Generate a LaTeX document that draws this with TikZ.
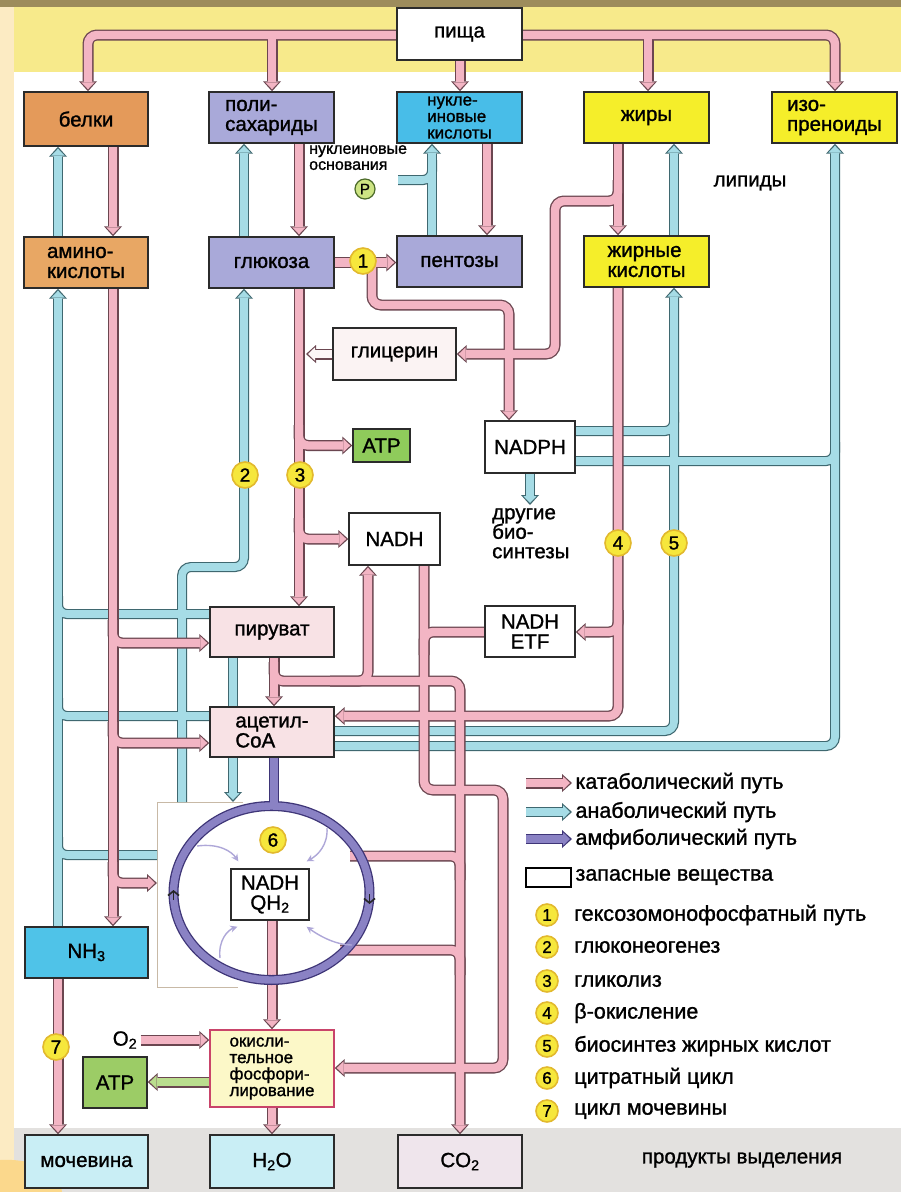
\documentclass[tikz,border=0pt]{standalone}
\usepackage{fontspec}
\setmainfont{Liberation Sans}[FakeBold=1.2]
\usetikzlibrary{arrows.meta,shapes.geometric,positioning,calc}

% pipe colours
\definecolor{katfill}{HTML}{F3B5C4}
\definecolor{katrim}{HTML}{6B4650}
\definecolor{anafill}{HTML}{A6DCE6}
\definecolor{anarim}{HTML}{3F6870}
\definecolor{amffill}{HTML}{8A82C4}
\definecolor{amfrim}{HTML}{3E3577}
\definecolor{feedcol}{HTML}{AEA7D8}
% box colours
\definecolor{boxrim}{HTML}{2B2B2B}
\definecolor{belkicol}{HTML}{E49A5A}
\definecolor{aminocol}{HTML}{E8A764}
\definecolor{sugar}{HTML}{A9A9D9}
\definecolor{nuclcol}{HTML}{48BDE8}
\definecolor{lipid}{HTML}{F5EE2A}
\definecolor{glycol}{HTML}{FBF3F3}
\definecolor{meta}{HTML}{F8E2E5}
\definecolor{atpcol}{HTML}{8FCB5B}
\definecolor{atptwo}{HTML}{9CCC66}
\definecolor{nhcol}{HTML}{4FC3E8}
\definecolor{oxcol}{HTML}{FCF8C8}
\definecolor{oxrim}{HTML}{C9446A}
\definecolor{excol}{HTML}{C9EEF5}
\definecolor{co2col}{HTML}{EFE5EC}
\definecolor{numfill}{HTML}{F6E73C}
\definecolor{numrim}{HTML}{E2B92E}
\definecolor{pfill}{HTML}{CDE483}
\definecolor{prim}{HTML}{4C6B2A}
\definecolor{glyarrow}{HTML}{FDF6F7}
\definecolor{grnarrow}{HTML}{BADD8E}
% page colours
\definecolor{framecol}{HTML}{C8B9A6}
\definecolor{topbar}{HTML}{9D8C5C}
\definecolor{bandcol}{HTML}{F7EA8B}
\definecolor{sidecol}{HTML}{FCEBC3}
\definecolor{excrband}{HTML}{E3E1DF}
\definecolor{decocol}{HTML}{FBD88C}

\pgfdeclarelayer{paper}
\pgfdeclarelayer{anarims}
\pgfdeclarelayer{anafills}
\pgfdeclarelayer{katrims}
\pgfdeclarelayer{katfills}
\pgfdeclarelayer{amfrims}
\pgfdeclarelayer{amffills}
\pgfsetlayers{paper,anarims,anafills,katrims,katfills,amfrims,amffills,main}

% a tube: dark rim on one layer, coloured core on the layer above
\newcommand\tube[3][flat]{%
  \begin{pgfonlayer}{#2rims}\draw[#2 rim,#1 rim] #3;\end{pgfonlayer}%
  \begin{pgfonlayer}{#2fills}\draw[#2 fill,#1 fill] #3;\end{pgfonlayer}}

\newcommand\labfont{\fontsize{20.5}{20}\selectfont}
\newcommand\nucfont{\fontsize{17}{16.5}\selectfont}
\newcommand\oxfont{\fontsize{17}{16.5}\selectfont}
\newcommand\legfont{\fontsize{21.5}{21.5}\selectfont}
\newcommand\smfont{\fontsize{16}{16}\selectfont}

\begin{document}
\begin{tikzpicture}[x=1pt, y=-1pt,
    box/.style={draw=boxrim, line width=1.4pt, minimum width=125pt, minimum height=51pt, inner sep=2pt, align=left, font=\labfont},
    num/.style={circle, draw=numrim, line width=1.6pt, fill=numfill, minimum size=26pt, inner sep=0pt, font=\fontsize{19}{19}\selectfont},
    kat rim/.style={draw=katrim, line width=11pt, rounded corners=9pt},
    kat fill/.style={draw=katfill, line width=8.4pt, rounded corners=9pt},
    ana rim/.style={draw=anarim, line width=10pt, rounded corners=9pt},
    ana fill/.style={draw=anafill, line width=7.6pt, rounded corners=9pt},
    amf rim/.style={draw=amfrim, line width=10pt, rounded corners=9pt},
    amf fill/.style={draw=amffill, line width=7.4pt, rounded corners=9pt},
    flat rim/.style={}, flat fill/.style={},
    arr rim/.style={-{Triangle[length=10pt,width=18pt,line width=0pt]}},
    arr fill/.style={-{Triangle[length=7pt,width=13.4pt,line width=0pt]}, shorten >=2pt},
    solo/.style 2 args={draw=#1, line width=8.4pt, -{Triangle[length=7pt,width=13.4pt,line width=0pt]}, shorten >=2pt,
      preaction={draw=#2, line width=11pt, -{Triangle[length=10pt,width=18pt,line width=0pt]}, shorten >=0pt}},
    feed/.style={draw=feedcol, line width=1.4pt, -{Stealth[length=7pt,width=7pt]}},
    tick/.style={draw=black!85, line width=1.6pt, -{Straight Barb[length=4.5pt,width=11pt]}}]

  \useasboundingbox (0,0) rectangle (901,1192);

  % boxes, top row
  \node[box, fill=white, minimum height=52pt] (food) at (459.5,34) {пища};
  \node[box, fill=belkicol, minimum width=124pt, minimum height=54pt] (belki) at (86,119) {белки};
  \node[box, fill=sugar] (poly) at (271.5,117.5) {поли-\\сахариды};
  \node[box, fill=nuclcol, font=\nucfont, inner sep=0pt] (nucl) at (459.5,117.5) {нукле-\\иновые\\кислоты};
  \node[box, fill=lipid] (fats) at (646.5,117.5) {жиры};
  \node[box, fill=lipid] (iso) at (834.5,117.5) {изо-\\преноиды};
  % monomers
  \node[box, fill=aminocol, minimum width=124pt] (amino) at (86,262.5) {амино-\\кислоты};
  \node[box, fill=sugar] (gluc) at (271.5,262.5) {глюкоза};
  \node[box, fill=sugar] (pent) at (459.5,261.5) {пентозы};
  \node[box, fill=lipid] (facid) at (646.5,261.5) {жирные\\кислоты};
  % intermediates
  \node[box, fill=glycol, minimum width=123pt, minimum height=52pt] (glyc) at (394.5,354) {глицерин};
  \node[box, fill=atpcol, minimum width=57pt, minimum height=33pt] (atp1) at (381.5,445.5) {ATP};
  \node[box, fill=white, minimum width=91pt, minimum height=52pt] (nadh) at (394.5,539) {NADH};
  \node[box, fill=white, minimum width=90pt, minimum height=52pt] (nadph) at (530,447) {NADPH};
  \node[box, fill=white, minimum width=90pt, align=center] (etf) at (530,631.5) {NADH\\ETF};
  \node[box, fill=meta, minimum width=124pt, minimum height=50pt] (pyr) at (272,632) {пируват};
  \node[box, fill=meta, minimum width=124pt, minimum height=50pt] (acoa) at (272,732) {ацетил-\\CoA};
  \node[minimum width=86pt, minimum height=185pt, inner sep=0pt, outer sep=0pt] (cyc) at (200,894.5) {};
  \node[ellipse, minimum width=196pt, minimum height=174pt, inner sep=0pt, outer sep=0pt] (ring) at (271.5,893) {};
  \node[box, fill=white, minimum width=78pt, align=center] (qh) at (270,894.5) {NADH\\QH\textsubscript{2}};
  \node[box, fill=nhcol, minimum width=123pt] (nh3) at (86.5,952.5) {NH\textsubscript{3}};
  \node[box, fill=atptwo, minimum width=64pt] (atp2) at (115,1082.5) {ATP};
  \node[box, fill=oxcol, draw=oxrim, minimum width=124pt, minimum height=77pt, font=\oxfont] (oxph) at (272,1068.5) {окисли-\\тельное\\фосфори-\\лирование};
  % end products
  \node[box, fill=excol, minimum width=123pt, minimum height=53pt] (urea) at (86.5,1161.5) {мочевина};
  \node[box, fill=excol, minimum width=124pt, minimum height=53pt] (water) at (272,1161.5) {H\textsubscript{2}O};
  \node[box, fill=co2col, minimum width=124pt, minimum height=53pt] (co2) at (460,1161.5) {CO\textsubscript{2}};

  % loose labels
  \node[anchor=north west, font=\smfont, align=left, inner sep=0pt] (nbase) at (309,145) {нуклеиновые\\основания};
  \node[circle, draw=prim, line width=1.2pt, fill=pfill, minimum size=20pt, inner sep=0pt, font=\fontsize{15}{15}\selectfont] (phos) at (365,189) {P};
  \node[font=\labfont] (lipids) at (750,183) {липиды};
  \node[anchor=north west, align=left, font=\fontsize{20.5}{19.5}\selectfont, inner sep=0pt] (other) at (492,508) {другие\\био-\\синтезы};
  \node[font=\labfont] (o2) at (125,1040) {O\textsubscript{2}};
  \node[font=\labfont] (excr) at (742,1160) {продукты выделения};

  % pathway numbers
  \node[num] (n1) at (363,261) {1};
  \node[num] (n2) at (245,475) {2};
  \node[num] (n3) at (300,475) {3};
  \node[num] (n4) at (618,543) {4};
  \node[num] (n5) at (674,543) {5};
  \node[num] (n6) at (273,840) {6};
  \node[num] (n7) at (56,1047) {7};

  % page
  \begin{pgfonlayer}{paper}
    \fill[white] (0,0) rectangle (901,1192);
    \fill[sidecol] (0,0) rectangle (14,1192);
    \fill[bandcol] (14,7) rectangle (901,72);
    \fill[topbar] (0,0) rectangle (901,7);
    \fill[excrband] (14,1128) rectangle (901,1192);
    \fill[decocol] (0,1160) .. controls (40,1158) and (60,1175) .. (62,1192) -- (0,1192) -- cycle;
    \draw[framecol, line width=1pt] (cyc.north east) -- (cyc.north west) -- (cyc.south west) -- ([xshift=-5pt]cyc.south east);
  \end{pgfonlayer}

  % catabolic tubes
  \tube[arr]{kat}{(food.west |- 0,35) -- (88,35) -- (belki.north -| 88,0)}
  \tube[arr]{kat}{(272,35) -- (poly.north -| 272,0)}
  \tube[arr]{kat}{(food.south -| 460,0) -- (nucl.north -| 460,0)}
  \tube[arr]{kat}{(food.east |- 0,35) -- (835,35) -- (iso.north -| 835,0)}
  \tube[arr]{kat}{(648,35) -- (fats.north -| 648,0)}
  \tube[arr]{kat}{(belki.south -| 113,0) -- (amino.north -| 113,0)}
  \tube[arr]{kat}{(poly.south -| 299,0) -- (gluc.north -| 299,0)}
  \tube[arr]{kat}{(nucl.south -| 487,0) -- (pent.north -| 487,0)}
  \tube[arr]{kat}{(fats.south -| 618,0) -- (facid.north -| 618,0)}
  \tube[arr]{kat}{(618,180) -- (618,201) -- (555,201) -- (555,354) -- (glyc.east)}
  \tube[arr]{kat}{(gluc.east) -- (pent.west |- gluc.east)}
  \tube[arr]{kat}{(n1.center -| 372,0) -- (372,305) -- (509,305) -- (nadph.north -| 509,0)}
  \tube[arr]{kat}{(gluc.south -| 299,0) -- (pyr.north -| 299,0)}
  \tube[arr]{kat}{(299,425) -- (299,445.5) -- (atp1.west)}
  \tube[arr]{kat}{(299,518) -- (299,539) -- (nadh.west)}
  \tube[arr]{kat}{(amino.south -| 113,0) -- (nh3.north -| 113,0)}
  \tube[arr]{kat}{(113,620) -- (113,643) -- (pyr.west |- 0,643)}
  \tube[arr]{kat}{(113,722) -- (113,743) -- (acoa.west |- 0,743)}
  \tube[arr]{kat}{(113,862) -- (113,883) -- (cyc.west |- 0,883)}
  \tube[arr]{kat}{(pyr.south -| 274,0) -- (acoa.north -| 274,0)}
  \tube[arr]{kat}{(274,662) -- (274,681) -- (460,681) -- (co2.north -| 460,0)}
  \tube[arr]{kat}{(330,681) -- (368,681) -- (nadh.south -| 368,0)}
  \tube[arr]{kat}{(nadh.south -| 424,0) -- (424,790) -- (503,790) -- (503,1068) -- (oxph.east |- 0,1068)}
  \tube{kat}{(etf.west |- 0,632) -- (424,632) -- (424,655)}
  \tube[arr]{kat}{(facid.south -| 618,0) -- (618,716) -- (acoa.east |- 0,716)}
  \tube[arr]{kat}{(618,610) -- (618,632) -- (etf.east |- 0,632)}
  \tube{kat}{(350,856) -- (460,856) -- (460,880)}
  \tube{kat}{(340,950) -- (460,950) -- (460,975)}
  \tube[arr]{kat}{(qh.south -| 272,0) -- (oxph.north -| 272,0)}
  \tube[arr]{kat}{(o2.east) -- (oxph.west |- o2.east)}
  \tube[arr]{kat}{(oxph.south -| 272,0) -- (water.north -| 272,0)}
  \tube[arr]{kat}{(nh3.south -| 58,0) -- (urea.north -| 58,0)}

  % anabolic tubes
  \tube[arr]{ana}{(amino.north -| 58,0) -- (belki.south -| 58,0)}
  \tube[arr]{ana}{(gluc.north -| 244,0) -- (poly.south -| 244,0)}
  \tube[arr]{ana}{(pent.north -| 432,0) -- (nucl.south -| 432,0)}
  \tube{ana}{(398,180) -- (432,180) -- (432,160)}
  \tube[arr]{ana}{(facid.north -| 674,0) -- (fats.south -| 674,0)}
  \tube[arr]{ana}{(nh3.north -| 58,0) -- (amino.south -| 58,0)}
  \tube{ana}{(pyr.west |- 0,614) -- (58,614) -- (58,596)}
  \tube{ana}{(acoa.west |- 0,716) -- (58,716) -- (58,698)}
  \tube{ana}{(cyc.west |- 0,855) -- (58,855) -- (58,837)}
  \tube[arr]{ana}{(cyc.north -| 182,0) -- (182,567) -- (244,567) -- (gluc.south -| 244,0)}
  \tube[arr]{ana}{(pyr.south -| 233,0) -- (cyc.north -| 233,0)}
  \tube[arr]{ana}{(acoa.east |- 0,731) -- (674,731) -- (facid.south -| 674,0)}
  \tube[arr]{ana}{(acoa.east |- 0,746) -- (835,746) -- (iso.south -| 835,0)}
  \tube{ana}{(nadph.east |- 0,431) -- (674,431) -- (674,412)}
  \tube{ana}{(nadph.east |- 0,461) -- (835,461) -- (835,442)}
  \tube[arr]{ana}{(nadph.south) -- (nadph.south |- 0,505)}

  % citrate cycle
  \tube{amf}{(acoa.south -| 274,0) -- (274,809)}
  \tube{amf}{(ring.center) ellipse [x radius=98pt, y radius=87pt]}
  \draw[tick] ($(ring.west)+(0,7)$) -- ($(ring.west)+(0,-3)$);
  \draw[tick] ($(ring.east)+(0,1)$) -- ($(ring.east)+(0,11)$);
  \draw[feed] (197,846) .. controls (220,843) and (232,852) .. ([shift={(8,-7)}]qh.north west);
  \draw[feed] (327,828) .. controls (328,845) and (318,855) .. ([shift={(-3,-7)}]qh.north east);
  \draw[feed] (220,958) .. controls (218,940) and (228,930) .. ([shift={(7,6)}]qh.south west);
  \draw[feed] (352,945) .. controls (335,945) and (318,935) .. ([shift={(-3,6)}]qh.south east);

  % side arrows
  \draw[solo={glyarrow}{katrim}] (glyc.west) -- (glyc.west -| 306,0);
  \draw[solo={grnarrow}{katrim}] (oxph.west |- 0,1082) -- (atp2.east |- 0,1082);

  % legend
  \node[anchor=west, font=\legfont] (lkat) at (572,783) {катаболический путь};
  \node[anchor=west, font=\legfont] (lana) at (572,812) {анаболический путь};
  \node[anchor=west, font=\legfont] (lamf) at (572,839) {амфиболический путь};
  \node[anchor=west, font=\legfont] (lstore) at (572,877) {запасные вещества};
  \tube[arr]{kat}{([xshift=-46pt]lkat.west) -- (lkat.west)}
  \tube[arr]{ana}{([xshift=-46pt]lana.west) -- (lana.west)}
  \tube[arr]{amf}{([xshift=-46pt]lamf.west) -- (lamf.west)}
  \node[draw=black, line width=2pt, minimum width=45pt, minimum height=19pt, inner sep=0pt, left=0pt of lstore] (lbox) {};

  \node[num, minimum size=22pt, font=\fontsize{17}{17}\selectfont] (l1) at (547,915) {1};
  \node[num, minimum size=22pt, font=\fontsize{17}{17}\selectfont] (l2) at (547,947) {2};
  \node[num, minimum size=22pt, font=\fontsize{17}{17}\selectfont] (l3) at (547,981) {3};
  \node[num, minimum size=22pt, font=\fontsize{17}{17}\selectfont] (l4) at (547,1013) {4};
  \node[num, minimum size=22pt, font=\fontsize{17}{17}\selectfont] (l5) at (547,1046) {5};
  \node[num, minimum size=22pt, font=\fontsize{17}{17}\selectfont] (l6) at (547,1078) {6};
  \node[num, minimum size=22pt, font=\fontsize{17}{17}\selectfont] (l7) at (547,1111) {7};
  \node[font=\legfont, right=12pt of l1] (t1) {гексозомонофосфатный путь};
  \node[font=\legfont, right=12pt of l2] (t2) {глюконеогенез};
  \node[font=\legfont, right=12pt of l3] (t3) {гликолиз};
  \node[font=\legfont, right=12pt of l4] (t4) {β-окисление};
  \node[font=\legfont, right=12pt of l5] (t5) {биосинтез жирных кислот};
  \node[font=\legfont, right=12pt of l6] (t6) {цитратный цикл};
  \node[font=\legfont, right=12pt of l7] (t7) {цикл мочевины};
\end{tikzpicture}
\end{document}
